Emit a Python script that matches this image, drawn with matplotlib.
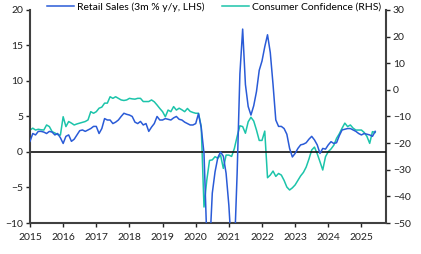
import matplotlib
matplotlib.use("Agg")
import matplotlib.pyplot as plt
import numpy as np
import pandas as pd

plt.rcParams['font.family'] = ['Lato', 'DejaVu Sans']

# Monthly data, Jan 2015 - Jun 2025
retail_sales = [
    # 2015
    1.5, 2.6, 2.4, 2.9, 2.9, 2.8, 2.6, 2.9, 2.8, 2.4, 2.6, 2.0,
    # 2016
    1.2, 2.2, 2.4, 1.5, 1.8, 2.4, 3.0, 3.1, 2.9, 3.1, 3.3, 3.6,
    # 2017
    3.6, 2.6, 3.3, 4.7, 4.5, 4.5, 4.0, 4.2, 4.5, 5.0, 5.45, 5.3,
    # 2018
    5.2, 5.0, 4.2, 4.0, 4.3, 3.8, 4.0, 2.9, 3.5, 4.0, 5.0, 4.5,
    # 2019
    4.5, 4.7, 4.6, 4.5, 4.8, 5.0, 4.6, 4.5, 4.2, 4.0, 3.8, 3.8,
    # 2020
    4.0, 5.4, 3.4, -0.2, -12.0, -14.0, -5.8, -2.8, -0.8, 0.0, -0.6, -3.0,
    # 2021
    -7.5, -14.0, -14.0, -3.0, 11.0, 17.3, 9.5, 6.4, 5.2, 6.5, 8.5, 11.5,
    # 2022
    12.8, 14.8, 16.5, 14.0, 9.5, 4.5, 3.6, 3.6, 3.3, 2.5, 0.5, -0.7,
    # 2023
    -0.2, 0.5, 1.0, 1.1, 1.3, 1.8, 2.2, 1.7, 1.0, -0.2, 0.5, 0.4,
    # 2024
    1.0, 1.45, 1.2, 1.3, 2.3, 3.1, 3.2, 3.3, 3.3, 3.1, 2.9, 2.6,
    # 2025
    2.4, 2.6, 2.5, 2.4, 2.2, 2.9,
]

consumer_confidence = [
    # 2015
    -15.1, -14.4, -15.1, -14.8, -15.0, -15.1, -13.2, -13.8, -15.7, -16.2, -16.8, -17.0,
    # 2016
    -10.1, -13.8, -11.9, -12.5, -13.2, -12.8, -12.5, -12.2, -11.9, -11.3, -8.2, -8.8,
    # 2017
    -8.2, -6.9, -6.5, -5.0, -5.0, -2.6, -3.2, -2.6, -3.2, -3.8, -4.0, -3.8,
    # 2018
    -3.2, -3.4, -3.5, -3.2, -3.2, -4.4, -4.4, -4.4, -3.8, -4.5, -5.7, -7.0,
    # 2019
    -8.2, -10.1, -7.6, -8.2, -6.3, -7.6, -6.9, -7.5, -8.2, -7.0, -8.1, -8.5,
    # 2020
    -8.8, -8.8, -13.8, -44.0, -34.0, -26.5, -26.3, -25.1, -25.7, -24.5, -29.5, -24.5,
    # 2021
    -24.5, -25.0, -22.0, -17.5, -13.5, -13.8, -16.3, -12.0, -10.3, -11.7, -15.1, -19.0,
    # 2022
    -19.0, -15.5, -33.0, -32.0, -30.5, -32.5, -31.4, -32.0, -34.0, -36.5, -37.6, -36.8,
    # 2023
    -35.7, -34.0, -32.3, -31.0, -29.0, -26.0, -22.6, -21.5, -24.0, -27.0, -30.1, -25.1,
    # 2024
    -23.2, -22.2, -20.8, -18.2, -16.5, -14.4, -12.5, -13.8, -13.2, -14.4, -15.1, -15.1,
    # 2025
    -15.1, -16.0, -17.5, -20.1, -15.7, -16.0,
]

x_ticks = list(range(2015, 2026))
left_ticks = [-10, -5, 0, 5, 10, 15, 20]
right_ticks = [-50, -40, -30, -20, -10, 0, 10, 20, 30]

n = len(retail_sales)
t = 2015 + np.arange(n) / 12.0

BLUE = '#2a5bd7'
GREEN = '#1cc4aa'
SPINE = '#404040'

fig = plt.figure(figsize=(4.21, 2.54), dpi=100)
ax = fig.add_axes([0.0713, 0.122, 0.9167 - 0.0713, 0.961 - 0.122])
ax2 = ax.twinx()

ax.set_xlim(2015, 2025.74)
ax.set_ylim(-10, 20)
ax2.set_ylim(-50, 30)

ax.axhline(0, color='#111111', lw=1.2, zorder=1)

l1, = ax.plot(t, retail_sales, color=BLUE, lw=1.1, zorder=3,
              label='Retail Sales (3m % y/y, LHS)')
l2, = ax2.plot(t, consumer_confidence, color=GREEN, lw=1.1, zorder=2,
               label='Consumer Confidence (RHS)')
ax.set_zorder(ax2.get_zorder() + 1)
ax.patch.set_visible(False)

ax.set_xticks(x_ticks)
ax.set_xticklabels([str(v) for v in x_ticks])
ax.set_yticks(left_ticks)
ax2.set_yticks(right_ticks)

for a in (ax, ax2):
    a.spines['top'].set_visible(False)
    for s in ('left', 'right', 'bottom'):
        a.spines[s].set_color(SPINE)
        a.spines[s].set_linewidth(1.5)
    a.tick_params(axis='both', labelsize=7.5, colors='#222222',
                  length=3, width=1.0, direction='out', pad=2)
ax.spines['right'].set_visible(False)
ax2.spines['left'].set_visible(False)
ax2.spines['bottom'].set_visible(False)
ax.tick_params(axis='x', pad=4)

leg = fig.legend(handles=[l1, l2], loc='upper left', ncol=2,
                 bbox_to_anchor=(0.095, 1.02), frameon=False,
                 fontsize=7.5, handlelength=2.6, handletextpad=0.3,
                 columnspacing=1.6, borderaxespad=0.3)

fig.savefig('out.png', dpi=100)
